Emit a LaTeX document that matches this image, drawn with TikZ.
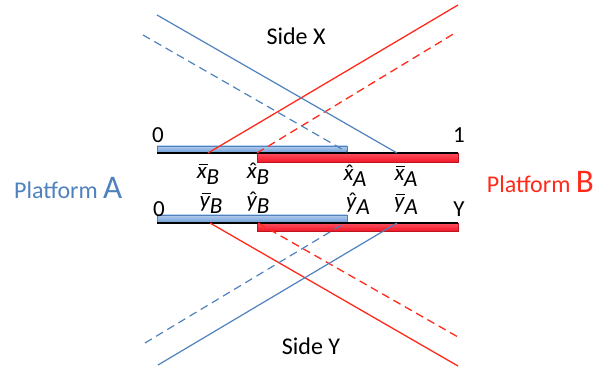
\documentclass[tikz,border=0pt]{standalone}
\usepackage{fontspec}
\setmainfont{Carlito}
\definecolor{lblue}{HTML}{4F81BD}
\definecolor{lred}{HTML}{FF2A1A}
\definecolor{barblueL}{HTML}{B3CDEE}
\definecolor{barblueD}{HTML}{6C9AD6}
\definecolor{barredL}{HTML}{FF5060}
\definecolor{barredD}{HTML}{F01828}
\newcommand{\accbar}{\rule[0.58em]{0.4em}{0.06em}}
\newcommand{\acchat}{\raisebox{0.02em}{\char"02C6}}
\newcommand{\lbl}[3]{\ooalign{\textit{#2}\cr\hidewidth\kern0.1em#1\hidewidth\cr}\kern-0.5pt\raisebox{-0.25em}{\textit{#3}}}
\begin{document}
\begin{tikzpicture}[x=1pt,y=-1pt,
  bline/.style={lblue,line width=1.2pt},
  rline/.style={lred,line width=1.3pt},
  dsh/.style={dash pattern=on 8pt off 5pt},
  lab/.style={inner sep=0pt,font=\fontsize{23}{25}\selectfont},
  num/.style={inner sep=0pt,font=\fontsize{23}{26}\selectfont},
  side/.style={inner sep=0pt,font=\fontsize{24}{28}\selectfont},
  blubar/.style={top color=barblueL,bottom color=barblueD,draw=lblue,line width=0.5pt},
  redbar/.style={top color=barredL,bottom color=barredD,draw=barredD!80!black,line width=0.5pt},
  axis/.style={black,line width=2pt}]
\useasboundingbox (0,0) rectangle (595,371);
% bars (top)
\path[blubar] (157,146) rectangle (347,153);
\path[redbar] (257,153) rectangle (458,162);
\coordinate (t0) at (157,153);
\coordinate (t1) at (458,153);
\draw[axis] (t0) -- (t1);
% bars (bottom)
\path[blubar] (157,215) rectangle (347,223);
\path[redbar] (257,223) rectangle (458,231);
\coordinate (b0) at (157,223);
\coordinate (b1) at (458,223);
\draw[axis] (b0) -- (b1);
% endpoints on top axis
\coordinate (txbB) at (208,153);
\coordinate (txhB) at (257,153);
\coordinate (txhA) at (347,152);
\coordinate (txbA) at (397,153);
% endpoints on bottom axis
\coordinate (bybB) at (210,223);
\coordinate (byhB) at (258,223);
\coordinate (byhA) at (345,223);
\coordinate (bybA) at (397,223);
% free ends
\coordinate (e1) at (458,5);
\coordinate (e2) at (455,33);
\coordinate (e3) at (157,15);
\coordinate (e4) at (143,35);
\coordinate (e5) at (458,366);
\coordinate (e6) at (458,337);
\coordinate (e7) at (158,365);
\coordinate (e8) at (145,343);
% diagonals
\draw[rline] (txbB) -- (e1);
\draw[rline,dsh] (txhB) -- (e2);
\draw[bline] (e3) -- (txbA);
\draw[bline,dsh] (e4) -- (txhA);
\draw[rline] (bybB) -- (e5);
\draw[rline,dsh] (byhB) -- (e6);
\draw[bline] (e7) -- (bybA);
\draw[bline,dsh] (e8) -- (byhA);
% labels
\node[num] (z1) at (158,135) {0};
\node[num] (o1) at (459,135) {1};
\node[num] (z2) at (159,209) {0};
\node[num] (yy) at (459,209) {Y};
\node[lab] (lxbB) at (208,176) {\lbl{\accbar}{x}{B}};
\node[lab] (lxhB) at (258,176) {\lbl{\acchat}{x}{B}};
\node[lab] (lxhA) at (355,178) {\lbl{\acchat}{x}{A}};
\node[lab] (lxbA) at (406,178) {\lbl{\accbar}{x}{A}};
\node[lab] (lybB) at (211,205) {\lbl{\accbar}{y}{B}};
\node[lab] (lyhB) at (258,205) {\lbl{\acchat}{y}{B}};
\node[lab] (lyhA) at (358,206) {\lbl{\acchat}{y}{A}};
\node[lab] (lybA) at (406,206) {\lbl{\accbar}{y}{A}};
\node[side] (sx) at (296,36) {Side X};
\node[side] (sy) at (311,346) {Side Y};
\node[inner sep=0pt,anchor=base west,text=lblue] (pa) at (14,199) {\fontsize{24}{26}\selectfont Platform \fontsize{33}{34}\selectfont A};
\node[inner sep=0pt,anchor=base east,text=lred] (pb) at (594,193) {\fontsize{24}{26}\selectfont Platform \fontsize{33}{34}\selectfont B};
\end{tikzpicture}
\end{document}
